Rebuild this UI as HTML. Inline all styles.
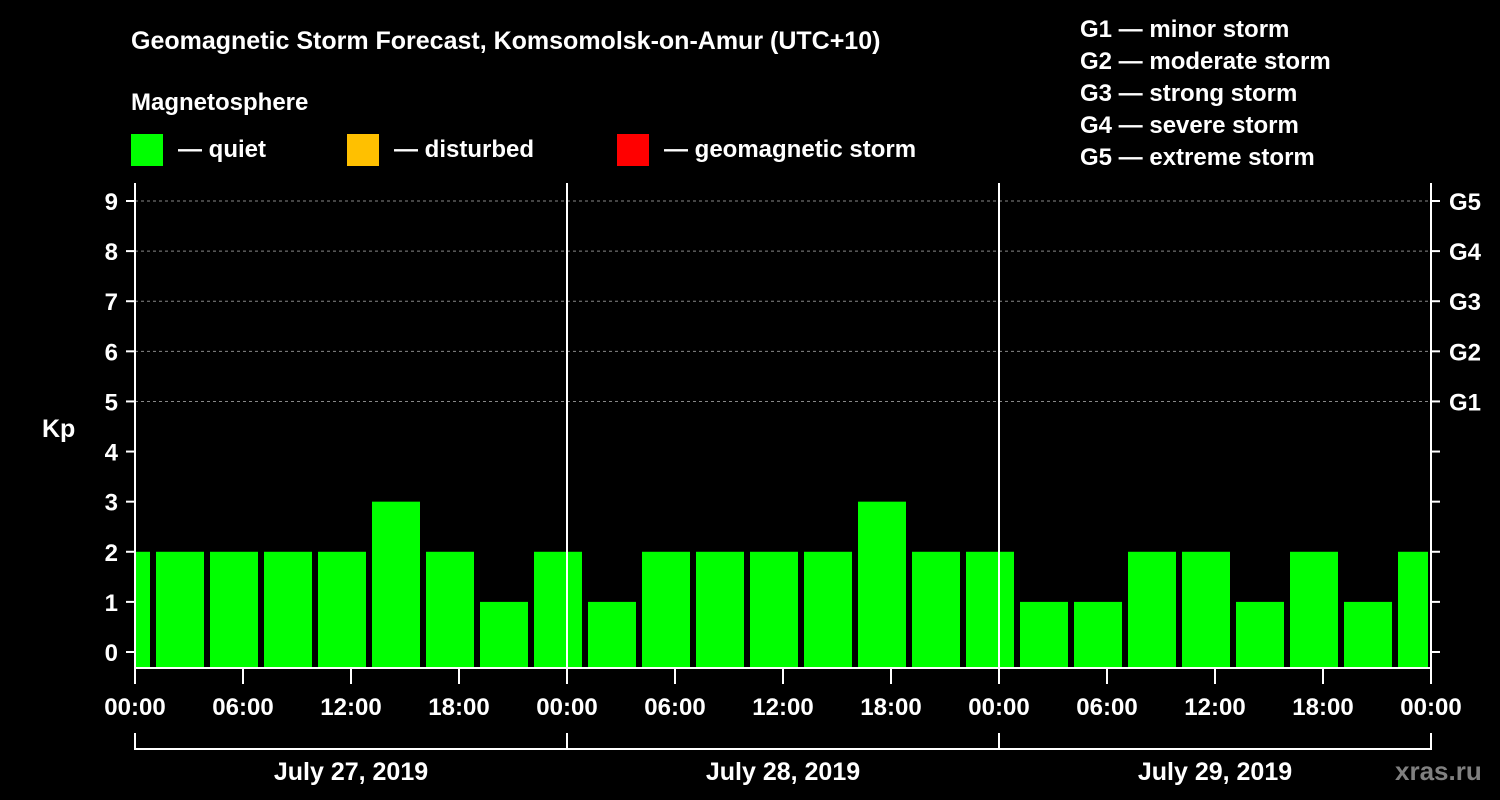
<!DOCTYPE html>
<html><head><meta charset="utf-8"><style>
html,body{margin:0;padding:0;background:#000;}
svg{display:block;font-family:"Liberation Sans",Arial,sans-serif;font-weight:bold;}
</style></head><body>
<svg id="c" width="1500" height="800" xmlns="http://www.w3.org/2000/svg">
<text x="131" y="49" fill="#fff" font-size="25">Geomagnetic Storm Forecast, Komsomolsk-on-Amur (UTC+10)</text>
<text x="131" y="110" fill="#fff" font-size="24">Magnetosphere</text>
<g><rect x="131" y="134" width="32" height="32" fill="#00ff00"/><text x="178" y="157" fill="#fff" font-size="24">— quiet</text></g>
<g><rect x="347" y="134" width="32" height="32" fill="#ffc000"/><text x="394" y="157" fill="#fff" font-size="24">— disturbed</text></g>
<g><rect x="617" y="134" width="32" height="32" fill="#ff0000"/><text x="664" y="157" fill="#fff" font-size="24">— geomagnetic storm</text></g>
<g fill="#fff" font-size="24">
<text x="1080" y="37">G1 — minor storm</text>
<text x="1080" y="69">G2 — moderate storm</text>
<text x="1080" y="101">G3 — strong storm</text>
<text x="1080" y="133">G4 — severe storm</text>
<text x="1080" y="165">G5 — extreme storm</text>
</g>
<text x="42" y="437" fill="#fff" font-size="25">Kp</text>
<text x="1395" y="780" fill="#808080" font-size="26">xras.ru</text>
<g id="plot"></g>
</svg>
<script>
const barStartHours=[-2,1,4,7,10,13,16,19,22,25,28,31,34,37,40,43,46,49,52,55,58,61,64,67,70];
const kpValues=[2,2,2,2,2,3,2,1,2,1,2,2,2,2,3,2,2,1,1,2,2,1,2,1,2];
const yTicks=[0,1,2,3,4,5,6,7,8,9];
const gLabels=["G1","G2","G3","G4","G5"];
const xTickHours=[0,6,12,18,24,30,36,42,48,54,60,66,72];
const xTickLabels=["00:00","06:00","12:00","18:00","00:00","06:00","12:00","18:00","00:00","06:00","12:00","18:00","00:00"];
const dayLabels=["July 27, 2019","July 28, 2019","July 29, 2019"];

const NS="http://www.w3.org/2000/svg";
const g=document.getElementById('plot');
const X0=135,X1=1431,TOP=183,BOT=668;
const x=h=>X0+(X1-X0)*h/72;
const y=v=>652-v*(652-201)/9;
function mk(t,a,txt){const e=document.createElementNS(NS,t);for(const k in a)e.setAttribute(k,a[k]);if(txt!==undefined)e.textContent=txt;g.appendChild(e);return e;}
function col(v){return v>=5?'#ff0000':v>=4?'#ffc000':'#00ff00';}

// grid
yTicks.forEach(v=>{if(v>=5){const e=mk('line',{x1:X0,x2:X1,y1:y(v),y2:y(v),stroke:'#888','stroke-width':1,'stroke-dasharray':'3,3'});

}});
// bars
barStartHours.forEach((h,i)=>{
  let a=Math.max(0,h),b=Math.min(72,h+3);
  let xa=x(a)+(h>=0?3:1),xb=x(b)-3;
  if(h+3>72) xb=x(72)-3;
  const e=mk('rect',{x:xa,y:y(kpValues[i]),width:xb-xa,height:BOT-y(kpValues[i]),fill:col(kpValues[i])});
  
  
});
// day separators
[24,48].forEach(h=>{const e=mk('line',{x1:x(h),x2:x(h),y1:TOP,y2:BOT,stroke:'#fff','stroke-width':2});

});
// frame
const fr=mk('path',{d:`M${X0} ${TOP}V${BOT}H${X1}V${TOP}`,fill:'none',stroke:'#fff','stroke-width':2});


// y ticks
yTicks.forEach(v=>{
  mk('line',{x1:X0-9,x2:X0,y1:y(v),y2:y(v),stroke:'#fff','stroke-width':2});
  mk('line',{x1:X1,x2:X1+9,y1:y(v),y2:y(v),stroke:'#fff','stroke-width':2});
  const t=mk('text',{x:118,y:y(v)+9,fill:'#fff','font-size':24,'text-anchor':'end'},String(v));
  
  
});
gLabels.forEach((l,i)=>{const t=mk('text',{x:1449,y:y(5+i)+9,fill:'#fff','font-size':24},l);

});
// x ticks
xTickHours.forEach((h,i)=>{
  mk('line',{x1:x(h),x2:x(h),y1:BOT,y2:BOT+16,stroke:'#fff','stroke-width':2});
  const t=mk('text',{x:x(h),y:715,fill:'#fff','font-size':24,'text-anchor':'middle'},xTickLabels[i]);
  
  
});
// day bracket
const br=mk('path',{d:`M${x(0)} 733V749H${x(72)}V733M${x(24)} 733V749M${x(48)} 733V749`,fill:'none',stroke:'#fff','stroke-width':2});


dayLabels.forEach((d,i)=>{const t=mk('text',{x:x(i*24+12),y:780,fill:'#fff','font-size':25,'text-anchor':'middle'},d);

});
</script>
</body></html>
